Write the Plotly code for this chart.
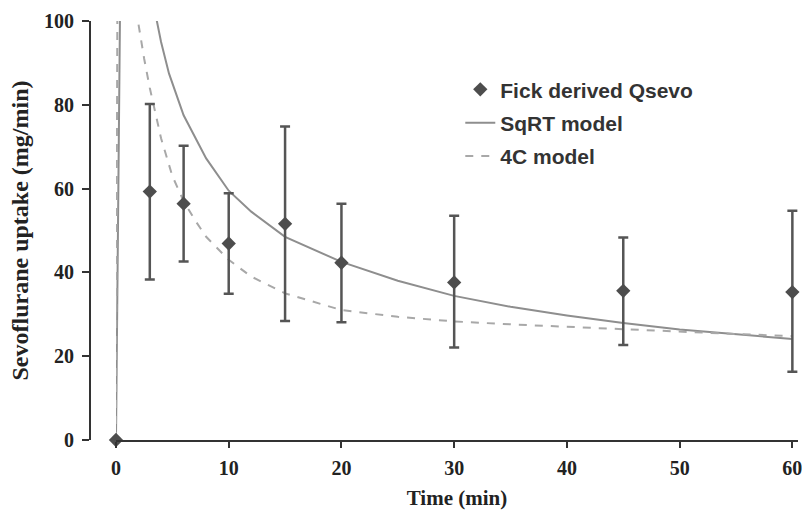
import plotly.graph_objects as go

# Measured data (Fick derived Qsevo)
time_pts = [0, 3, 6, 10, 15, 20, 30, 45, 60]
fick_mean = [0, 59.3, 56.4, 46.9, 51.6, 42.3, 37.6, 35.6, 35.3]
fick_upper = [0, 80.2, 70.2, 58.9, 74.8, 56.4, 53.5, 48.3, 54.7]
fick_lower = [0, 38.3, 42.6, 34.9, 28.4, 28.1, 22.1, 22.7, 16.3]

# SqRT model curve
sqrt_t = [0, 0.35, 0.6, 1.2, 2.0, 2.8, 3.4, 4.0, 4.7, 6, 8, 10, 12, 15, 20, 25, 30, 35, 40, 45, 50, 55, 60]
sqrt_q = [0, 100, 240, 175, 135, 114, 103, 95, 87.5, 77.5, 67.2, 59.5, 54.5, 48.5, 42.5, 38, 34.4, 31.8, 29.7, 27.9, 26.4, 25.2, 24.1]

# 4C model curve
fourc_t = [0, 0.12, 0.3, 1.0, 1.6, 1.95, 2.5, 3, 4, 5, 6, 7, 8, 10, 12, 15, 20, 25, 30, 35, 40, 45, 50, 55, 60]
fourc_q = [0, 100, 250, 150, 112, 100, 91, 84, 72, 63, 57, 52.5, 48.5, 43, 39, 35, 31, 29.4, 28.3, 27.6, 27, 26.4, 25.9, 25.3, 24.8]

x_ticks = [0, 10, 20, 30, 40, 50, 60]
y_ticks = [0, 20, 40, 60, 80, 100]

err_plus = [None if u == m else u - m for u, m in zip(fick_upper, fick_mean)]
err_minus = [None if l == m else m - l for l, m in zip(fick_lower, fick_mean)]

serif = "Liberation Serif"
sans = "Liberation Sans"

fig = go.Figure()
fig.add_trace(go.Scatter(
    x=sqrt_t, y=sqrt_q, mode="lines", name="SqRT model", legendgroup="b", legendrank=2,
    line=dict(color="#8e8e8e", width=2),
))
fig.add_trace(go.Scatter(
    x=fourc_t, y=fourc_q, mode="lines", name="4C model", legendgroup="c", legendrank=3,
    line=dict(color="#a8a8a8", width=2, dash="8px,8px"),
))
fig.add_trace(go.Scatter(
    x=time_pts, y=fick_mean, mode="markers", name="Fick derived Qsevo",
    legendgroup="a", legendrank=1,
    marker=dict(symbol="diamond", size=11, color="#4d4d4d"),
    error_y=dict(type="data", symmetric=False, array=err_plus, arrayminus=err_minus,
                 color="#555555", thickness=2.5, width=5),
    cliponaxis=False,
))

fig.update_layout(
    width=802, height=510,
    margin=dict(l=90, r=4, t=21, b=70),
    paper_bgcolor="white", plot_bgcolor="white",
    showlegend=True,
    legend=dict(x=0.523, y=0.885, xanchor="left", yanchor="top",
                font=dict(family=sans, size=21, color="#333333", weight="bold"),
                traceorder="grouped", tracegroupgap=3, bgcolor="rgba(0,0,0,0)"),
    xaxis=dict(domain=[0.0367, 1], range=[0, 60.5], tickvals=x_ticks, automargin=False,
               showline=True, linecolor="#333333", linewidth=2,
               ticks="outside", ticklen=6, tickwidth=2, tickcolor="#333333",
               showgrid=False, zeroline=False, ticklabelstandoff=3, ticklabeloverflow="allow",
               tickfont=dict(family=serif, size=20, color="#222222", weight="bold"),
               title=dict(text="Time (min)", font=dict(family=serif, size=21, color="#222222", weight="bold"),
                          standoff=17)),
    yaxis=dict(range=[0, 100], tickvals=y_ticks, anchor="free", position=0, automargin=False,
               showline=True, linecolor="#333333", linewidth=2,
               ticks="outside", ticklen=7, tickwidth=2, tickcolor="#333333",
               showgrid=False, zeroline=False, ticklabelstandoff=4,
               tickfont=dict(family=serif, size=20, color="#222222", weight="bold"),
               title=dict(text="Sevoflurane uptake (mg/min)",
                          font=dict(family=serif, size=24, color="#222222", weight="bold"),
                          standoff=8)),
)

fig.write_html("out.html")
